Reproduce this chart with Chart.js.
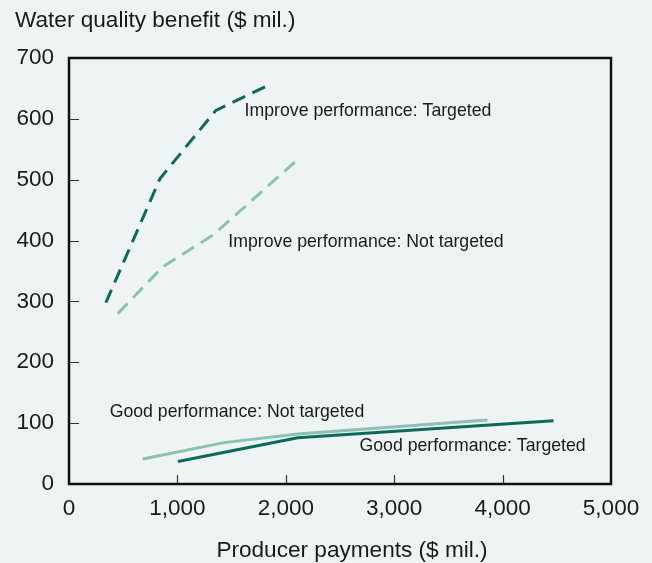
<!DOCTYPE html>
<html>
<head>
<meta charset="utf-8">
<script src="https://cdn.jsdelivr.net/npm/chart.js@4"></script>
<style>
html, body { margin: 0; padding: 0; background: #eef3f3; }
#wrap { width: 652px; height: 563px; }
</style>
</head>
<body>
<div id="wrap"><canvas id="chart"></canvas></div>
<script>
// values, $ mil.
const improveTargetedX = [340, 840, 1355, 1815];
const improveTargetedY = [298, 502, 614, 653];
const improveNotTargetedX = [450, 865, 1335, 2120];
const improveNotTargetedY = [280, 357, 410, 535];
const goodNotTargetedX = [680, 1430, 2110, 3860];
const goodNotTargetedY = [41, 68, 82, 105];
const goodTargetedX = [1005, 2110, 4470];
const goodTargetedY = [37, 76, 104];

const xTicks = [0, 1000, 2000, 3000, 4000, 5000];
const yTicks = [0, 100, 200, 300, 400, 500, 600, 700];

const seriesNames = [
    'Improve performance: Targeted',
    'Improve performance: Not targeted',
    'Good performance: Not targeted',
    'Good performance: Targeted'
];
// where each label sits, in data units (left edge, vertical middle)
const labelSpots = [[1620, 612], [1470, 397], [375, 118], [2680, 63]];

const DARK = '#0b6b5b';
const LIGHT = '#8cc1b3';
const FONT = "'Liberation Sans', Arial, sans-serif";

const toPoints = (xs, ys) => xs.map((x, i) => ({ x: x, y: ys[i] }));

const frame = {
    id: 'frame',
    beforeDraw(chart) {
        const c = chart.ctx;
        c.save();
        c.fillStyle = '#eef3f3';
        c.fillRect(0, 0, chart.width, chart.height);
        c.restore();
    },
    afterDatasetsDraw(chart) {
        const c = chart.ctx;
        const a = chart.chartArea;
        const xs = chart.scales.x, ys = chart.scales.y;
        c.save();
        // inward tick marks
        c.strokeStyle = '#333';
        c.lineWidth = 1.2;
        c.beginPath();
        xTicks.slice(1, -1).forEach(v => {
            const px = Math.round(xs.getPixelForValue(v)) + 0.5;
            c.moveTo(px, a.bottom); c.lineTo(px, a.bottom - 9);
        });
        yTicks.slice(1, -1).forEach(v => {
            const py = Math.round(ys.getPixelForValue(v)) + 0.5;
            c.moveTo(a.left, py); c.lineTo(a.left + 10, py);
        });
        c.stroke();
        // box
        c.strokeStyle = '#111';
        c.lineWidth = 2.5;
        c.strokeRect(a.left, a.top, a.right - a.left, a.bottom - a.top);
        // series labels
        c.fillStyle = '#1a1a1a';
        c.font = '17.7px ' + FONT;
        c.textBaseline = 'middle';
        c.textAlign = 'left';
        seriesNames.forEach((name, i) => {
            c.fillText(name, xs.getPixelForValue(labelSpots[i][0]), ys.getPixelForValue(labelSpots[i][1]));
        });
        // axis titles
        c.font = '22.6px ' + FONT;
        c.textBaseline = 'alphabetic';
        c.fillText('Water quality benefit ($ mil.)', 15, 27);
        c.textAlign = 'center';
        c.fillText('Producer payments ($ mil.)', 352, 557);
        c.restore();
    }
};

new Chart(document.getElementById('chart'), {
    type: 'line',
    data: {
        datasets: [
            { label: seriesNames[0], data: toPoints(improveTargetedX, improveTargetedY), borderColor: DARK, borderWidth: 3, borderDash: [14, 8] },
            { label: seriesNames[1], data: toPoints(improveNotTargetedX, improveNotTargetedY), borderColor: LIGHT, borderWidth: 3, borderDash: [14, 8] },
            { label: seriesNames[2], data: toPoints(goodNotTargetedX, goodNotTargetedY), borderColor: LIGHT, borderWidth: 3 },
            { label: seriesNames[3], data: toPoints(goodTargetedX, goodTargetedY), borderColor: DARK, borderWidth: 3 }
        ]
    },
    options: {
        responsive: true,
        maintainAspectRatio: false,
        animation: false,
        elements: { point: { radius: 0 }, line: { tension: 0, fill: false } },
        layout: { padding: { top: 58, right: 41, left: 0, bottom: 0 } },
        plugins: { legend: { display: false }, tooltip: { enabled: false } },
        scales: {
            x: {
                type: 'linear', min: 0, max: 5000,
                afterFit: s => { s.height = 79; },
                afterBuildTicks: s => { s.ticks = xTicks.map(v => ({ value: v })); },
                ticks: { color: '#1a1a1a', font: { size: 22.5, family: FONT }, padding: 11, maxRotation: 0,
                    callback: v => v.toLocaleString('en-US') },
                grid: { display: false, drawTicks: false },
                border: { display: false }
            },
            y: {
                min: 0, max: 700,
                afterFit: s => { s.width = 69; },
                afterBuildTicks: s => { s.ticks = yTicks.map(v => ({ value: v })); },
                ticks: { color: '#1a1a1a', font: { size: 22.5, family: FONT }, padding: 15 },
                grid: { display: false, drawTicks: false },
                border: { display: false }
            }
        }
    },
    plugins: [frame]
});
</script>
</body>
</html>
